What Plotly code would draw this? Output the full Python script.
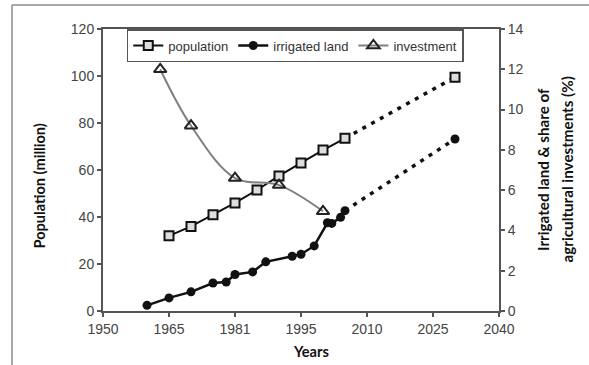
import plotly.graph_objects as go

# ---- data ----
tick_years = [1950, 1965, 1980, 1995, 2010, 2025, 2040]
tick_labels = ["1950", "1965", "1981", "1995", "2010", "2025", "2040"]

pop_years = [1965, 1970, 1975, 1980, 1985, 1990, 1995, 2000, 2005]
pop_values = [32, 36, 41, 46, 51.5, 57.5, 63, 68.5, 73.5]
pop_proj_years = [2005, 2030]
pop_proj_values = [73.5, 99.5]

irr_years = [1960, 1965, 1970, 1975, 1978, 1980, 1984, 1987, 1993, 1995, 1998, 2001, 2002, 2004, 2005]
irr_values = [0.28, 0.65, 0.95, 1.39, 1.44, 1.81, 1.94, 2.44, 2.72, 2.82, 3.23, 4.38, 4.35, 4.65, 4.98]
irr_proj_years = [2005, 2030]
irr_proj_values = [4.98, 8.54]

inv_years = [1963, 1970, 1980, 1990, 2000]
inv_values = [12.0, 9.2, 6.6, 6.25, 4.95]

# ---- styles ----
AX = "#555555"
TICKFONT = dict(family="Liberation Sans, Arial", size=14, color="#444444")
SQ = dict(symbol="square", size=9, color="#dddddd", line=dict(color="#111111", width=2))
CI = dict(symbol="circle", size=9, color="#111111", line=dict(color="#111111", width=0))
DOT = dict(color="#111111", width=3.5, dash="4px,6px")

fig = go.Figure()

# projections (dotted)
fig.add_trace(go.Scatter(x=pop_proj_years, y=pop_proj_values, mode="lines", yaxis="y",
                         line=DOT, showlegend=False, hoverinfo="skip"))
fig.add_trace(go.Scatter(x=irr_proj_years, y=irr_proj_values, mode="lines", yaxis="y2",
                         line=DOT, showlegend=False, hoverinfo="skip"))
fig.add_trace(go.Scatter(x=pop_proj_years[-1:], y=pop_proj_values[-1:], mode="markers", yaxis="y",
                         marker=SQ, showlegend=False, hoverinfo="skip"))
fig.add_trace(go.Scatter(x=irr_proj_years[-1:], y=irr_proj_values[-1:], mode="markers", yaxis="y2",
                         marker=CI, showlegend=False, hoverinfo="skip"))

# investment
fig.add_trace(go.Scatter(
    x=inv_years, y=inv_values, mode="lines+markers", yaxis="y2", name="investment", legendrank=3,
    line=dict(color="#808080", width=2, shape="spline", smoothing=1),
    marker=dict(symbol="triangle-up-open", size=11, color="#222222", line=dict(width=2))))

# population
fig.add_trace(go.Scatter(
    x=pop_years, y=pop_values, mode="lines+markers", yaxis="y", name="population", legendrank=1,
    line=dict(color="#111111", width=2), marker=SQ))

# irrigated land
fig.add_trace(go.Scatter(
    x=irr_years, y=irr_values, mode="lines+markers", yaxis="y2", name="irrigated land", legendrank=2,
    line=dict(color="#111111", width=2.5), marker=CI))

fig.update_layout(
    width=589, height=365,
    margin=dict(l=103, r=90, t=29, b=54),
    paper_bgcolor="white", plot_bgcolor="white",
    showlegend=True,
    legend=dict(orientation="h", x=0.06, y=1, xanchor="left", yanchor="top",
                bgcolor="white", bordercolor=AX, borderwidth=1.5,
                font=dict(family="Liberation Sans, Arial", size=13, color="#333333"),
                itemwidth=30, tracegroupgap=0),
    xaxis=dict(range=[1950, 2040], tickvals=tick_years, ticktext=tick_labels,
               showline=True, linecolor=AX, linewidth=2, mirror=True,
               ticks="outside", ticklen=4, tickcolor=AX, tickwidth=1.5,
               showgrid=False, zeroline=False, tickfont=TICKFONT),
    yaxis=dict(range=[0, 120], tickvals=[0, 20, 40, 60, 80, 100, 120],
               showline=True, linecolor=AX, linewidth=2,
               ticks="outside", ticklen=4, tickcolor=AX, tickwidth=1.5,
               showgrid=False, zeroline=False, tickfont=TICKFONT),
    yaxis2=dict(range=[0, 14], tickvals=[0, 2, 4, 6, 8, 10, 12, 14], overlaying="y", side="right",
                showline=True, linecolor=AX, linewidth=2,
                ticks="outside", ticklen=4, tickcolor=AX, tickwidth=1.5,
                showgrid=False, zeroline=False, tickfont=TICKFONT),
)

# axis titles
fig.add_annotation(text="<b>Population (million)</b>", xref="paper", yref="paper",
                   x=-0.1616, y=0.4415, textangle=-90, showarrow=False,
                   font=dict(family="Lato, Noto Sans", size=14.6, color="#111111"),
                   xanchor="center", yanchor="middle")
fig.add_annotation(text="<b>Years</b>", xref="paper", yref="paper",
                   x=0.525, y=-0.145, showarrow=False,
                   font=dict(family="Lato, Noto Sans", size=14.6, color="#111111"),
                   xanchor="center", yanchor="middle")
fig.add_annotation(text="<b>Irrigated land &amp; share of</b>",
                   xref="paper", yref="paper", x=(543 - 103) / 396, y=0.5, textangle=-90,
                   showarrow=False, font=dict(family="Lato, Noto Sans", size=15.2, color="#111111"),
                   xanchor="center", yanchor="middle")
fig.add_annotation(text="<b>agricultural investments (%)</b>",
                   xref="paper", yref="paper", x=(566.5 - 103) / 396, y=0.5, textangle=-90,
                   showarrow=False, font=dict(family="Lato, Noto Sans", size=15.2, color="#111111"),
                   xanchor="center", yanchor="middle")

# outer frame lines
fig.add_shape(type="line", xref="paper", yref="paper", x0=-0.2298, x1=-0.2298, y0=1.0851, y1=-0.3,
              line=dict(color="#8a8a8a", width=1.5))
fig.add_shape(type="line", xref="paper", yref="paper", x0=-0.2298, x1=1.4, y0=1.0851, y1=1.0851,
              line=dict(color="#8a8a8a", width=1.5))

fig.write_html("out.html", config={"displayModeBar": False},
               post_script="document.body.style.margin='0px';")
